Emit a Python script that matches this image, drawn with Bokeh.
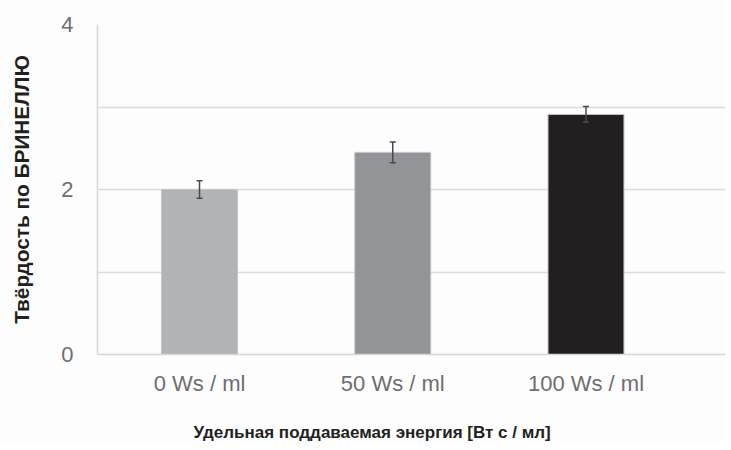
from bokeh.plotting import figure
from bokeh.models import ColumnDataSource, Whisker, TeeHead, FixedTicker, Range1d, Title
from bokeh.embed import file_html
from bokeh.resources import INLINE

# ---- data ----
categories = ["0 Ws / ml", "50 Ws / ml", "100 Ws / ml"]
positions = [0, 1, 2]
hardness = [2.0, 2.45, 2.91]
errors = [0.105, 0.125, 0.095]
bar_colors = ["#b2b3b5", "#939497", "#231f20"]
y_ticks = [0, 2, 4]
y_grid = [0, 1, 2, 3, 4]
x_title = "Удельная поддаваемая энергия  [Вт с / мл]"
y_title = "Твёрдость по БРИНЕЛЛЮ"

lower = [h - e for h, e in zip(hardness, errors)]
upper = [h + e for h, e in zip(hardness, errors)]
src = ColumnDataSource(dict(x=positions, top=hardness, color=bar_colors,
                            lower=lower, upper=upper))

p = figure(width=725, height=442, output_backend="svg", toolbar_location=None,
           x_range=Range1d(-0.528, 2.722), y_range=Range1d(0, 4),
           min_border_left=97, min_border_right=0, min_border_top=24,
           min_border_bottom=88)
p.background_fill_color = "#fdfdfd"
p.border_fill_color = "#fdfdfd"
p.outline_line_color = None

p.vbar(x="x", top="top", bottom=0, width=0.393, fill_color="color",
       line_color="#c4c4c4", line_width=1, source=src)

w = Whisker(base="x", lower="lower", upper="upper", source=src, level="overlay",
            line_color="#4a4a4a", line_width=1.5,
            upper_head=TeeHead(size=6, line_color="#4a4a4a", line_width=1.5),
            lower_head=TeeHead(size=6, line_color="#4a4a4a", line_width=1.5))
p.add_layout(w)

# grid
p.xgrid.grid_line_color = None
p.ygrid.ticker = FixedTicker(ticks=y_grid)
p.ygrid.grid_line_color = "#dcdcdc"
p.ygrid.grid_line_width = 1.5

# y axis
p.yaxis.ticker = FixedTicker(ticks=y_ticks)
p.yaxis.axis_line_color = "#d6d6d6"
p.yaxis.axis_line_width = 1.5
p.yaxis.major_tick_line_color = None
p.yaxis.minor_tick_line_color = None
p.yaxis.major_label_standoff = 18
p.yaxis.major_label_text_font = "Liberation Sans"
p.yaxis.major_label_text_font_size = "22px"
p.yaxis.major_label_text_color = "#6d6e70"
p.yaxis.axis_label = y_title
p.yaxis.axis_label_text_font = "Liberation Sans"
p.yaxis.axis_label_text_font_style = "bold"
p.yaxis.axis_label_text_font_size = "20.8px"
p.yaxis.axis_label_text_color = "#231f20"
p.yaxis.axis_label_standoff = 25

# x axis
p.xaxis.ticker = FixedTicker(ticks=positions)
p.xaxis.major_label_overrides = {pos: cat for pos, cat in zip(positions, categories)}
p.xaxis.axis_line_color = "#d6d6d6"
p.xaxis.axis_line_width = 1.5
p.xaxis.major_tick_line_color = None
p.xaxis.minor_tick_line_color = None
p.xaxis.major_label_standoff = 10
p.xaxis.major_label_text_font = "Liberation Sans"
p.xaxis.major_label_text_font_size = "22px"
p.xaxis.major_label_text_color = "#6d6e70"

# spacer between tick labels and the x title
spacer = Title(text=" ", text_font_size="1px", standoff=18)
p.add_layout(spacer, "below")

tx = Title(text=x_title, align="left", offset=96, text_font="Liberation Sans",
           text_font_style="bold", text_font_size="17px", text_color="#231f20",
           standoff=2)
p.add_layout(tx, "below")

open("out.html", "w").write(file_html(p, INLINE))
